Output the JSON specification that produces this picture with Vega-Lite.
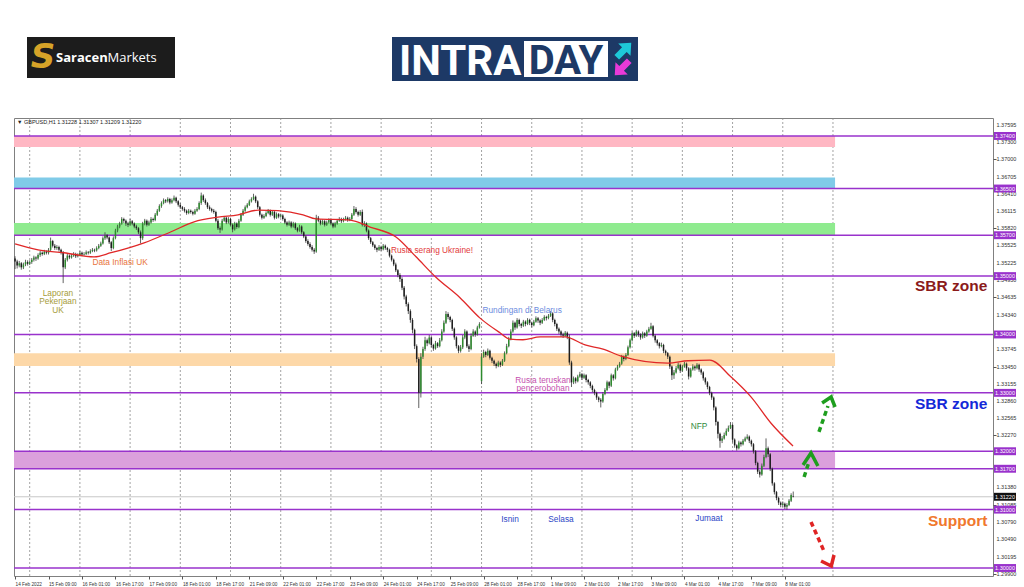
{
"$schema": "https://vega.github.io/schema/vega-lite/v6.json",
"background": "#ffffff",
"padding": {"left": 11, "top": 0, "right": 0, "bottom": 0},
"spacing": 18,
"bounds": "flush",
"config": {"view": {"stroke": null}, "font": "Liberation Sans"},
"vconcat": [
{
"width": 979, "height": 100,
"data": {"values": [{}]},
"layer": [
{"mark": {"type": "rect", "color": "#1c1c1c"}, "encoding": {"x": {"datum": 24, "type": "quantitative", "scale": {"domain": [11, 990], "nice": false, "zero": false}, "axis": null}, "x2": {"datum": 172}, "y": {"datum": 37, "type": "quantitative", "scale": {"domain": [0, 100], "reverse": true, "nice": false, "zero": false}, "axis": null}, "y2": {"datum": 78}}},
{"mark": {"type": "text", "text": "S", "font": "DejaVu Sans", "fontWeight": "bold", "fontStyle": "italic", "fontSize": 34, "color": "#d6a328", "baseline": "middle", "align": "center"}, "encoding": {"x": {"datum": 40, "type": "quantitative"}, "y": {"datum": 58, "type": "quantitative"}}},
{"mark": {"type": "text", "text": "Saracen", "font": "Open Sans", "fontWeight": "bold", "fontSize": 13, "color": "#ffffff", "baseline": "middle", "align": "left"}, "encoding": {"x": {"datum": 53, "type": "quantitative"}, "y": {"datum": 57.5, "type": "quantitative"}}},
{"mark": {"type": "text", "text": "Markets", "font": "Open Sans", "fontSize": 13, "color": "#ffffff", "baseline": "middle", "align": "left"}, "encoding": {"x": {"datum": 104.5, "type": "quantitative"}, "y": {"datum": 57.5, "type": "quantitative"}}},
{"mark": {"type": "rect", "color": "#1d3966"}, "encoding": {"x": {"datum": 389, "type": "quantitative"}, "x2": {"datum": 635}, "y": {"datum": 37, "type": "quantitative"}, "y2": {"datum": 81}}},
{"mark": {"type": "text", "text": "INTRA", "font": "Roboto", "fontWeight": "bold", "fontSize": 42, "color": "#ffffff", "baseline": "alphabetic", "align": "left"}, "encoding": {"x": {"datum": 396, "type": "quantitative"}, "y": {"datum": 75, "type": "quantitative"}}},
{"mark": {"type": "rect", "color": "#ffffff"}, "encoding": {"x": {"datum": 521, "type": "quantitative"}, "x2": {"datum": 605}, "y": {"datum": 41, "type": "quantitative"}, "y2": {"datum": 77}}},
{"mark": {"type": "text", "text": "DAY", "font": "Roboto", "fontWeight": "bold", "fontSize": 40, "color": "#1d3966", "baseline": "alphabetic", "align": "center"}, "encoding": {"x": {"datum": 563, "type": "quantitative"}, "y": {"datum": 74, "type": "quantitative"}}},
{"mark": {"type": "point", "shape": "M0,-1L0.85,-0.05L0.32,-0.05L0.32,1L-0.32,1L-0.32,-0.05L-0.85,-0.05Z", "filled": true, "opacity": 1, "color": "#1ec8d8", "size": 420, "angle": 45}, "encoding": {"x": {"datum": 621, "type": "quantitative"}, "y": {"datum": 50, "type": "quantitative"}}},
{"mark": {"type": "point", "shape": "M0,-1L0.85,-0.05L0.32,-0.05L0.32,1L-0.32,1L-0.32,-0.05L-0.85,-0.05Z", "filled": true, "opacity": 1, "color": "#e83ad9", "size": 420, "angle": 225}, "encoding": {"x": {"datum": 619, "type": "quantitative"}, "y": {"datum": 68, "type": "quantitative"}}}
]
},
{
"width": 979, "height": 458,
"view": {"stroke": "#808080", "strokeWidth": 1},
"data": {"values": "i,o,h,l,c\n0,1.3530,1.3534,1.3512,1.3525\n1,1.3525,1.3528,1.3513,1.3518\n2,1.3518,1.3526,1.3515,1.3522\n3,1.3522,1.3524,1.3511,1.3515\n4,1.3515,1.3523,1.3512,1.3520\n5,1.3520,1.3528,1.3517,1.3524\n6,1.3524,1.3527,1.3518,1.3521\n7,1.3521,1.3527,1.3519,1.3524\n8,1.3524,1.3531,1.3521,1.3528\n9,1.3528,1.3535,1.3525,1.3532\n10,1.3532,1.3534,1.3526,1.3530\n11,1.3530,1.3539,1.3528,1.3536\n12,1.3536,1.3543,1.3533,1.3540\n13,1.3540,1.3542,1.3535,1.3538\n14,1.3538,1.3545,1.3536,1.3542\n15,1.3542,1.3544,1.3537,1.3540\n16,1.3540,1.3548,1.3537,1.3545\n17,1.3545,1.3566,1.3543,1.3560\n18,1.3560,1.3562,1.3549,1.3552\n19,1.3552,1.3555,1.3545,1.3548\n20,1.3548,1.3553,1.3545,1.3550\n21,1.3550,1.3552,1.3542,1.3545\n22,1.3545,1.3547,1.3537,1.3540\n23,1.3540,1.3543,1.3488,1.3515\n24,1.3515,1.3531,1.3512,1.3528\n25,1.3528,1.3538,1.3525,1.3535\n26,1.3535,1.3537,1.3529,1.3532\n27,1.3532,1.3538,1.3530,1.3535\n28,1.3535,1.3541,1.3533,1.3538\n29,1.3538,1.3540,1.3531,1.3534\n30,1.3534,1.3539,1.3532,1.3536\n31,1.3536,1.3543,1.3534,1.3540\n32,1.3540,1.3542,1.3534,1.3537\n33,1.3537,1.3541,1.3535,1.3538\n34,1.3538,1.3544,1.3536,1.3541\n35,1.3541,1.3543,1.3537,1.3540\n36,1.3540,1.3546,1.3538,1.3543\n37,1.3543,1.3548,1.3541,1.3545\n38,1.3545,1.3547,1.3541,1.3544\n39,1.3544,1.3551,1.3542,1.3548\n40,1.3548,1.3555,1.3546,1.3552\n41,1.3552,1.3559,1.3550,1.3556\n42,1.3556,1.3568,1.3554,1.3565\n43,1.3565,1.3575,1.3562,1.3570\n44,1.3570,1.3572,1.3563,1.3566\n45,1.3566,1.3568,1.3555,1.3558\n46,1.3558,1.3560,1.3543,1.3548\n47,1.3548,1.3568,1.3546,1.3565\n48,1.3565,1.3581,1.3563,1.3578\n49,1.3578,1.3588,1.3575,1.3585\n50,1.3585,1.3593,1.3582,1.3590\n51,1.3590,1.3601,1.3588,1.3598\n52,1.3598,1.3600,1.3591,1.3595\n53,1.3595,1.3597,1.3586,1.3590\n54,1.3590,1.3593,1.3584,1.3588\n55,1.3588,1.3598,1.3586,1.3594\n56,1.3594,1.3596,1.3587,1.3590\n57,1.3590,1.3592,1.3582,1.3585\n58,1.3585,1.3588,1.3579,1.3582\n59,1.3582,1.3584,1.3572,1.3575\n60,1.3575,1.3578,1.3556,1.3565\n61,1.3565,1.3593,1.3562,1.3590\n62,1.3590,1.3598,1.3587,1.3595\n63,1.3595,1.3597,1.3585,1.3588\n64,1.3588,1.3595,1.3586,1.3592\n65,1.3592,1.3601,1.3590,1.3598\n66,1.3598,1.3600,1.3593,1.3596\n67,1.3596,1.3608,1.3594,1.3605\n68,1.3605,1.3615,1.3603,1.3612\n69,1.3612,1.3623,1.3610,1.3620\n70,1.3620,1.3628,1.3617,1.3625\n71,1.3625,1.3633,1.3623,1.3630\n72,1.3630,1.3632,1.3625,1.3628\n73,1.3628,1.3635,1.3626,1.3632\n74,1.3632,1.3634,1.3623,1.3626\n75,1.3626,1.3633,1.3624,1.3630\n76,1.3630,1.3638,1.3628,1.3634\n77,1.3634,1.3636,1.3625,1.3628\n78,1.3628,1.3630,1.3619,1.3622\n79,1.3622,1.3625,1.3615,1.3618\n80,1.3618,1.3620,1.3612,1.3615\n81,1.3615,1.3618,1.3609,1.3612\n82,1.3612,1.3614,1.3605,1.3608\n83,1.3608,1.3615,1.3606,1.3612\n84,1.3612,1.3614,1.3607,1.3610\n85,1.3610,1.3612,1.3604,1.3607\n86,1.3607,1.3615,1.3605,1.3612\n87,1.3612,1.3618,1.3610,1.3615\n88,1.3615,1.3628,1.3613,1.3625\n89,1.3625,1.3643,1.3622,1.3638\n90,1.3638,1.3640,1.3627,1.3630\n91,1.3630,1.3633,1.3622,1.3625\n92,1.3625,1.3627,1.3615,1.3618\n93,1.3618,1.3621,1.3612,1.3615\n94,1.3615,1.3617,1.3609,1.3612\n95,1.3612,1.3615,1.3607,1.3610\n96,1.3610,1.3612,1.3592,1.3595\n97,1.3595,1.3598,1.3579,1.3582\n98,1.3582,1.3585,1.3574,1.3580\n99,1.3580,1.3598,1.3578,1.3595\n100,1.3595,1.3603,1.3593,1.3600\n101,1.3600,1.3602,1.3589,1.3592\n102,1.3592,1.3601,1.3590,1.3598\n103,1.3598,1.3600,1.3585,1.3588\n104,1.3588,1.3590,1.3575,1.3580\n105,1.3580,1.3593,1.3578,1.3590\n106,1.3590,1.3592,1.3581,1.3584\n107,1.3584,1.3598,1.3582,1.3595\n108,1.3595,1.3608,1.3593,1.3605\n109,1.3605,1.3615,1.3603,1.3612\n110,1.3612,1.3621,1.3610,1.3618\n111,1.3618,1.3625,1.3616,1.3622\n112,1.3622,1.3631,1.3620,1.3628\n113,1.3628,1.3635,1.3626,1.3632\n114,1.3632,1.3641,1.3630,1.3636\n115,1.3636,1.3638,1.3625,1.3628\n116,1.3628,1.3630,1.3615,1.3618\n117,1.3618,1.3620,1.3602,1.3605\n118,1.3605,1.3607,1.3597,1.3600\n119,1.3600,1.3606,1.3598,1.3603\n120,1.3603,1.3611,1.3601,1.3608\n121,1.3608,1.3615,1.3606,1.3612\n122,1.3612,1.3614,1.3602,1.3605\n123,1.3605,1.3613,1.3603,1.3610\n124,1.3610,1.3612,1.3597,1.3600\n125,1.3600,1.3609,1.3598,1.3606\n126,1.3606,1.3608,1.3599,1.3602\n127,1.3602,1.3607,1.3600,1.3604\n128,1.3604,1.3606,1.3595,1.3598\n129,1.3598,1.3600,1.3589,1.3592\n130,1.3592,1.3594,1.3585,1.3588\n131,1.3588,1.3595,1.3586,1.3592\n132,1.3592,1.3594,1.3582,1.3585\n133,1.3585,1.3593,1.3583,1.3590\n134,1.3590,1.3592,1.3579,1.3582\n135,1.3582,1.3584,1.3575,1.3578\n136,1.3578,1.3588,1.3576,1.3585\n137,1.3585,1.3587,1.3572,1.3575\n138,1.3575,1.3577,1.3565,1.3568\n139,1.3568,1.3570,1.3557,1.3560\n140,1.3560,1.3563,1.3552,1.3555\n141,1.3555,1.3558,1.3547,1.3550\n142,1.3550,1.3553,1.3542,1.3545\n143,1.3545,1.3548,1.3538,1.3542\n144,1.3542,1.3605,1.3540,1.3600\n145,1.3600,1.3603,1.3592,1.3595\n146,1.3595,1.3597,1.3587,1.3590\n147,1.3590,1.3597,1.3588,1.3594\n148,1.3594,1.3596,1.3585,1.3588\n149,1.3588,1.3595,1.3586,1.3592\n150,1.3592,1.3599,1.3590,1.3596\n151,1.3596,1.3598,1.3587,1.3590\n152,1.3590,1.3592,1.3582,1.3585\n153,1.3585,1.3593,1.3583,1.3590\n154,1.3590,1.3598,1.3588,1.3595\n155,1.3595,1.3601,1.3593,1.3598\n156,1.3598,1.3600,1.3591,1.3594\n157,1.3594,1.3600,1.3592,1.3597\n158,1.3597,1.3603,1.3595,1.3600\n159,1.3600,1.3602,1.3593,1.3596\n160,1.3596,1.3601,1.3594,1.3598\n161,1.3598,1.3608,1.3596,1.3605\n162,1.3605,1.3620,1.3603,1.3615\n163,1.3615,1.3618,1.3607,1.3610\n164,1.3610,1.3612,1.3602,1.3605\n165,1.3605,1.3613,1.3603,1.3610\n166,1.3610,1.3614,1.3585,1.3588\n167,1.3588,1.3594,1.3584,1.3590\n168,1.3590,1.3592,1.3575,1.3578\n169,1.3578,1.3580,1.3562,1.3565\n170,1.3565,1.3567,1.3555,1.3558\n171,1.3558,1.3560,1.3550,1.3553\n172,1.3553,1.3555,1.3545,1.3548\n173,1.3548,1.3550,1.3541,1.3545\n174,1.3545,1.3553,1.3543,1.3550\n175,1.3550,1.3552,1.3543,1.3546\n176,1.3546,1.3555,1.3544,1.3552\n177,1.3552,1.3554,1.3545,1.3548\n178,1.3548,1.3550,1.3541,1.3545\n179,1.3545,1.3547,1.3532,1.3535\n180,1.3535,1.3537,1.3525,1.3528\n181,1.3528,1.3530,1.3517,1.3520\n182,1.3520,1.3523,1.3507,1.3510\n183,1.3510,1.3512,1.3498,1.3502\n184,1.3502,1.3505,1.3490,1.3495\n185,1.3495,1.3498,1.3476,1.3480\n186,1.3480,1.3483,1.3460,1.3465\n187,1.3465,1.3468,1.3448,1.3452\n188,1.3452,1.3455,1.3435,1.3440\n189,1.3440,1.3443,1.3420,1.3425\n190,1.3425,1.3428,1.3402,1.3408\n191,1.3408,1.3410,1.3375,1.3380\n192,1.3380,1.3383,1.3352,1.3358\n193,1.3358,1.3361,1.3274,1.3300\n194,1.3300,1.3368,1.3292,1.3362\n195,1.3362,1.3379,1.3358,1.3375\n196,1.3375,1.3396,1.3372,1.3390\n197,1.3390,1.3393,1.3380,1.3385\n198,1.3385,1.3399,1.3383,1.3395\n199,1.3395,1.3397,1.3378,1.3382\n200,1.3382,1.3384,1.3372,1.3376\n201,1.3376,1.3389,1.3374,1.3385\n202,1.3385,1.3387,1.3377,1.3380\n203,1.3380,1.3394,1.3378,1.3390\n204,1.3390,1.3409,1.3388,1.3405\n205,1.3405,1.3424,1.3403,1.3420\n206,1.3420,1.3440,1.3418,1.3435\n207,1.3435,1.3438,1.3426,1.3430\n208,1.3430,1.3432,1.3421,1.3425\n209,1.3425,1.3427,1.3406,1.3410\n210,1.3410,1.3412,1.3391,1.3395\n211,1.3395,1.3397,1.3376,1.3380\n212,1.3380,1.3382,1.3368,1.3372\n213,1.3372,1.3382,1.3369,1.3378\n214,1.3378,1.3399,1.3375,1.3395\n215,1.3395,1.3409,1.3392,1.3405\n216,1.3405,1.3407,1.3377,1.3380\n217,1.3380,1.3383,1.3370,1.3375\n218,1.3375,1.3402,1.3373,1.3398\n219,1.3398,1.3409,1.3396,1.3405\n220,1.3405,1.3407,1.3396,1.3400\n221,1.3400,1.3415,1.3398,1.3412\n222,1.3412,1.3421,1.3410,1.3418\n223,1.3320,1.3368,1.3315,1.3362\n224,1.3362,1.3374,1.3360,1.3370\n225,1.3370,1.3372,1.3361,1.3365\n226,1.3365,1.3376,1.3363,1.3372\n227,1.3372,1.3374,1.3357,1.3360\n228,1.3360,1.3362,1.3351,1.3355\n229,1.3355,1.3357,1.3346,1.3350\n230,1.3350,1.3352,1.3342,1.3346\n231,1.3346,1.3355,1.3344,1.3352\n232,1.3352,1.3354,1.3344,1.3348\n233,1.3348,1.3358,1.3346,1.3355\n234,1.3355,1.3371,1.3353,1.3368\n235,1.3368,1.3384,1.3366,1.3380\n236,1.3380,1.3396,1.3378,1.3392\n237,1.3392,1.3409,1.3390,1.3405\n238,1.3405,1.3424,1.3403,1.3420\n239,1.3420,1.3422,1.3408,1.3412\n240,1.3412,1.3428,1.3410,1.3425\n241,1.3425,1.3427,1.3414,1.3418\n242,1.3418,1.3420,1.3411,1.3415\n243,1.3415,1.3425,1.3413,1.3422\n244,1.3422,1.3424,1.3414,1.3418\n245,1.3418,1.3428,1.3416,1.3425\n246,1.3425,1.3427,1.3416,1.3420\n247,1.3420,1.3422,1.3412,1.3416\n248,1.3416,1.3425,1.3414,1.3422\n249,1.3422,1.3431,1.3420,1.3428\n250,1.3428,1.3430,1.3420,1.3424\n251,1.3424,1.3426,1.3416,1.3420\n252,1.3420,1.3428,1.3418,1.3425\n253,1.3425,1.3433,1.3423,1.3430\n254,1.3430,1.3432,1.3424,1.3428\n255,1.3428,1.3435,1.3426,1.3432\n256,1.3432,1.3440,1.3430,1.3436\n257,1.3436,1.3438,1.3421,1.3425\n258,1.3425,1.3427,1.3414,1.3418\n259,1.3418,1.3420,1.3406,1.3410\n260,1.3410,1.3412,1.3401,1.3405\n261,1.3405,1.3407,1.3396,1.3400\n262,1.3400,1.3403,1.3394,1.3398\n263,1.3398,1.3406,1.3396,1.3403\n264,1.3403,1.3405,1.3392,1.3396\n265,1.3396,1.3400,1.3348,1.3352\n266,1.3352,1.3355,1.3310,1.3318\n267,1.3318,1.3328,1.3315,1.3325\n268,1.3325,1.3327,1.3316,1.3320\n269,1.3320,1.3331,1.3318,1.3328\n270,1.3328,1.3336,1.3326,1.3332\n271,1.3332,1.3334,1.3322,1.3326\n272,1.3326,1.3333,1.3324,1.3330\n273,1.3330,1.3332,1.3318,1.3322\n274,1.3322,1.3324,1.3314,1.3318\n275,1.3318,1.3320,1.3308,1.3312\n276,1.3312,1.3314,1.3301,1.3305\n277,1.3305,1.3307,1.3296,1.3300\n278,1.3300,1.3302,1.3288,1.3292\n279,1.3292,1.3294,1.3284,1.3288\n280,1.3288,1.3291,1.3275,1.3285\n281,1.3285,1.3301,1.3283,1.3298\n282,1.3298,1.3308,1.3296,1.3305\n283,1.3305,1.3321,1.3303,1.3318\n284,1.3318,1.3320,1.3308,1.3312\n285,1.3312,1.3333,1.3310,1.3330\n286,1.3330,1.3332,1.3321,1.3325\n287,1.3325,1.3343,1.3323,1.3340\n288,1.3340,1.3348,1.3338,1.3345\n289,1.3345,1.3353,1.3343,1.3350\n290,1.3350,1.3365,1.3348,1.3362\n291,1.3362,1.3364,1.3354,1.3358\n292,1.3358,1.3368,1.3356,1.3365\n293,1.3365,1.3381,1.3363,1.3378\n294,1.3378,1.3393,1.3376,1.3390\n295,1.3390,1.3405,1.3388,1.3402\n296,1.3402,1.3404,1.3394,1.3398\n297,1.3398,1.3408,1.3396,1.3405\n298,1.3405,1.3407,1.3396,1.3400\n299,1.3400,1.3402,1.3391,1.3395\n300,1.3395,1.3405,1.3393,1.3402\n301,1.3402,1.3404,1.3394,1.3398\n302,1.3398,1.3408,1.3396,1.3405\n303,1.3405,1.3413,1.3403,1.3410\n304,1.3410,1.3420,1.3408,1.3414\n305,1.3414,1.3416,1.3395,1.3398\n306,1.3398,1.3400,1.3386,1.3390\n307,1.3390,1.3392,1.3381,1.3385\n308,1.3385,1.3387,1.3376,1.3380\n309,1.3380,1.3386,1.3378,1.3382\n310,1.3382,1.3384,1.3368,1.3372\n311,1.3372,1.3374,1.3364,1.3368\n312,1.3368,1.3370,1.3358,1.3362\n313,1.3362,1.3364,1.3341,1.3345\n314,1.3345,1.3347,1.3322,1.3330\n315,1.3330,1.3339,1.3324,1.3335\n316,1.3335,1.3346,1.3333,1.3342\n317,1.3342,1.3352,1.3340,1.3348\n318,1.3348,1.3350,1.3334,1.3338\n319,1.3338,1.3348,1.3336,1.3345\n320,1.3345,1.3353,1.3343,1.3350\n321,1.3350,1.3352,1.3338,1.3342\n322,1.3342,1.3344,1.3323,1.3328\n323,1.3328,1.3343,1.3326,1.3340\n324,1.3340,1.3349,1.3338,1.3345\n325,1.3345,1.3347,1.3338,1.3342\n326,1.3342,1.3351,1.3340,1.3348\n327,1.3348,1.3350,1.3336,1.3340\n328,1.3340,1.3342,1.3331,1.3335\n329,1.3335,1.3337,1.3321,1.3325\n330,1.3325,1.3327,1.3314,1.3318\n331,1.3318,1.3320,1.3306,1.3310\n332,1.3310,1.3312,1.3296,1.3300\n333,1.3300,1.3302,1.3288,1.3292\n334,1.3292,1.3294,1.3270,1.3275\n335,1.3275,1.3277,1.3244,1.3250\n336,1.3250,1.3252,1.3222,1.3230\n337,1.3230,1.3232,1.3206,1.3218\n338,1.3218,1.3226,1.3214,1.3222\n339,1.3222,1.3232,1.3220,1.3228\n340,1.3228,1.3239,1.3226,1.3235\n341,1.3235,1.3244,1.3233,1.3240\n342,1.3240,1.3250,1.3238,1.3245\n343,1.3245,1.3247,1.3215,1.3220\n344,1.3220,1.3222,1.3206,1.3210\n345,1.3210,1.3212,1.3201,1.3205\n346,1.3205,1.3218,1.3203,1.3215\n347,1.3215,1.3217,1.3208,1.3212\n348,1.3212,1.3221,1.3210,1.3218\n349,1.3218,1.3225,1.3216,1.3222\n350,1.3222,1.3229,1.3220,1.3225\n351,1.3225,1.3227,1.3214,1.3218\n352,1.3218,1.3220,1.3208,1.3212\n353,1.3212,1.3214,1.3196,1.3200\n354,1.3200,1.3202,1.3176,1.3180\n355,1.3180,1.3182,1.3161,1.3165\n356,1.3165,1.3168,1.3155,1.3160\n357,1.3160,1.3179,1.3158,1.3175\n358,1.3175,1.3194,1.3173,1.3190\n359,1.3190,1.3222,1.3188,1.3205\n360,1.3205,1.3208,1.3190,1.3195\n361,1.3195,1.3197,1.3166,1.3170\n362,1.3170,1.3172,1.3141,1.3145\n363,1.3145,1.3147,1.3126,1.3130\n364,1.3130,1.3132,1.3116,1.3120\n365,1.3120,1.3122,1.3108,1.3112\n366,1.3112,1.3114,1.3104,1.3108\n367,1.3108,1.3114,1.3105,1.3110\n368,1.3110,1.3112,1.3101,1.3105\n369,1.3105,1.3111,1.3100,1.3108\n370,1.3108,1.3118,1.3106,1.3115\n371,1.3115,1.3128,1.3113,1.3125\n372,1.3123,1.3131,1.3121,1.3122", "format": {"type": "csv", "parse": {"i": "number", "o": "number", "h": "number", "l": "number", "c": "number"}}},
"resolve": {"scale": {"color": "independent"}},
"layer": [
{"data": {"values": [{"g":7},{"g":31},{"g":55},{"g":79},{"g":103},{"g":127},{"g":151},{"g":175},{"g":199},{"g":223},{"g":247},{"g":271},{"g":295},{"g":319},{"g":343},{"g":367},{"g":391}]},
 "mark": {"type": "rule", "color": "#8c8c8c", "strokeDash": [2, 2], "strokeWidth": 0.8},
 "encoding": {"x": {"field": "g", "type": "quantitative", "title": null, "scale": {"domain": [-0.5, 467.5], "nice": false, "zero": false},
  "axis": {"title": null, "values": [0,16,32,48,64,80,96,112,128,144,160,176,192,208,224,240,256,272,288,304,320,336,352,368], "labelExpr": "['14 Feb 2022','15 Feb 09:00','16 Feb 01:00','16 Feb 17:00','17 Feb 09:00','18 Feb 01:00','18 Feb 17:00','21 Feb 09:00','22 Feb 01:00','22 Feb 17:00','23 Feb 09:00','24 Feb 01:00','24 Feb 17:00','25 Feb 09:00','28 Feb 01:00','28 Feb 17:00','1 Mar 09:00','2 Mar 01:00','2 Mar 17:00','3 Mar 09:00','4 Mar 01:00','4 Mar 17:00','7 Mar 09:00','8 Mar 01:00'][round(datum.value/16)]", "labelAlign": "left", "labelFontSize": 4.7, "labelColor": "#333333", "labelPadding": 2, "tickSize": 3, "tickColor": "#555555", "domain": false, "grid": false, "labelOverlap": false, "labelFlush": false}}}},
{"data": {"values": [{"zone":"z1","hi":1.3740,"lo":1.3721},{"zone":"z2","hi":1.3669,"lo":1.3650},{"zone":"z3","hi":1.3591,"lo":1.3570},{"zone":"z4","hi":1.3368,"lo":1.3346},{"zone":"z5","hi":1.3200,"lo":1.3170}]},
 "mark": {"type": "rect", "opacity": 1},
 "encoding": {"x": {"datum": -0.5, "type": "quantitative"}, "x2": {"datum": 392},
  "y": {"field": "hi", "type": "quantitative", "title": null, "scale": {"domain": [1.29863, 1.37708], "nice": false, "zero": false},
   "axis": {"title": null, "orient": "right", "values": [1.37595,1.373,1.37,1.36705,1.3641,1.36115,1.3582,1.35525,1.35225,1.3493,1.34635,1.3434,1.34045,1.33745,1.3345,1.33155,1.3286,1.32565,1.3227,1.31975,1.3168,1.3138,1.31085,1.3079,1.3049,1.30195,1.299], "labels": false, "tickSize": 3, "tickColor": "#555555", "domain": false, "grid": false}},
  "y2": {"field": "lo"},
  "color": {"field": "zone", "type": "nominal", "scale": {"domain": ["z1","z2","z3","z4","z5"], "range": ["#ffb7c3","#80cbe8","#8feb8f","#fdd8a8","#dba0dc"]}, "legend": null}}},
{"data": {"values": [{"lvl":1.374},{"lvl":1.365},{"lvl":1.357},{"lvl":1.35},{"lvl":1.34},{"lvl":1.33},{"lvl":1.32},{"lvl":1.317},{"lvl":1.31},{"lvl":1.30}]},
 "mark": {"type": "rule", "color": "#9932cc", "strokeWidth": 1.5},
 "encoding": {"y": {"field": "lvl", "type": "quantitative", "title": null}}},
{"data": {"values": [{"p": 1.3122}]},
 "mark": {"type": "rule", "color": "#c8c8c8", "strokeWidth": 1},
 "encoding": {"y": {"field": "p", "type": "quantitative", "title": null}}},
{"mark": {"type": "rule", "color": "#3a3a3a", "strokeWidth": 0.8},
 "encoding": {"x": {"field": "i", "type": "quantitative", "title": null}, "y": {"field": "l", "type": "quantitative", "title": null}, "y2": {"field": "h"}}},
{"mark": {"type": "rule", "strokeWidth": 1.5},
 "encoding": {"x": {"field": "i", "type": "quantitative", "title": null}, "y": {"field": "o", "type": "quantitative", "title": null}, "y2": {"field": "c"},
  "color": {"condition": {"test": "datum.c >= datum.o", "value": "#2e8b2e"}, "value": "#1e1e1e"}}},
{"data": {"values": [{"i":0,"ma":1.3555},{"i":11,"ma":1.3545},{"i":23.4,"ma":1.3540},{"i":37.8,"ma":1.3533},{"i":45.9,"ma":1.3540},{"i":61.7,"ma":1.3557},{"i":74.6,"ma":1.3576},{"i":85.6,"ma":1.3593},{"i":97,"ma":1.3601},{"i":106.6,"ma":1.3605},{"i":116.2,"ma":1.3613},{"i":125.7,"ma":1.3612},{"i":137.7,"ma":1.3605},{"i":143.9,"ma":1.3598},{"i":160.1,"ma":1.3596},{"i":169.7,"ma":1.3584},{"i":182.1,"ma":1.3567},{"i":191.7,"ma":1.3533},{"i":201.2,"ma":1.3498},{"i":212.7,"ma":1.3463},{"i":222.3,"ma":1.3428},{"i":231.8,"ma":1.3403},{"i":236.6,"ma":1.3392},{"i":242.8,"ma":1.3391},{"i":251,"ma":1.3396},{"i":262.9,"ma":1.3396},{"i":272.5,"ma":1.3382},{"i":281.1,"ma":1.3375},{"i":289.7,"ma":1.3363},{"i":312.1,"ma":1.3351},{"i":321.7,"ma":1.3355},{"i":332.2,"ma":1.3356},{"i":342.3,"ma":1.3327},{"i":351.8,"ma":1.3293},{"i":361.4,"ma":1.3248},{"i":371.9,"ma":1.3209}]},
 "mark": {"type": "line", "color": "#e02828", "strokeWidth": 1.3, "interpolate": "monotone"},
 "encoding": {"x": {"field": "i", "type": "quantitative", "title": null}, "y": {"field": "ma", "type": "quantitative", "title": null}}},
{"data": {"values": [{"label":"Data Inflasi UK","i":50.2,"p":1.35225},{"label":"Laporan\nPekerjaan\nUK","i":20.5,"p":1.34694},{"label":"Rusia serang Ukraine!","i":199.3,"p":1.3543},{"label":"Rundingan di Belarus","i":242.4,"p":1.344},{"label":"Rusia teruskan\npencerobohan","i":252.4,"p":1.33204},{"label":"NFP","i":327,"p":1.32415},{"label":"Isnin","i":236.6,"p":1.30822},{"label":"Selasa","i":261,"p":1.30822},{"label":"Jumaat","i":331.7,"p":1.30839}]},
 "mark": {"type": "text", "font": "Liberation Sans", "fontSize": 8.3, "lineBreak": "\n", "lineHeight": 8.3, "align": "center", "baseline": "middle"},
 "encoding": {"x": {"field": "i", "type": "quantitative", "title": null}, "y": {"field": "p", "type": "quantitative", "title": null}, "text": {"field": "label"},
  "color": {"field": "label", "type": "nominal", "scale": {"domain": ["Data Inflasi UK","Laporan\nPekerjaan\nUK","Rusia serang Ukraine!","Rundingan di Belarus","Rusia teruskan\npencerobohan","NFP","Isnin","Selasa","Jumaat"], "range": ["#e8743b","#a69c3a","#e23b3b","#6d8de0","#c54fae","#2f8a3c","#2d46c6","#2d46c6","#2d46c6"]}, "legend": null}}},
{"data": {"values": [{"label":"SBR zone","tag":"upper","p":1.34831},{"label":"SBR zone","tag":"lower","p":1.32809},{"label":"Support","tag":"support","p":1.30805}]},
 "mark": {"type": "text", "font": "Liberation Sans", "fontWeight": "bold", "fontSize": 15.5, "align": "right", "baseline": "middle"},
 "encoding": {"x": {"datum": 464.8, "type": "quantitative"}, "y": {"field": "p", "type": "quantitative", "title": null}, "text": {"field": "label"},
  "color": {"field": "tag", "type": "nominal", "scale": {"domain": ["upper","lower","support"], "range": ["#8b1a1a","#1428d8","#f0782d"]}, "legend": null}}},
{"data": {"values": [{"a":"up1","s":0,"i":384.3,"p":1.32333},{"a":"up1","s":1,"i":388.6,"p":1.32775},{"a":"up2","s":0,"i":377.2,"p":1.31559},{"a":"up2","s":1,"i":379.5,"p":1.31816},{"a":"down","s":0,"i":380.5,"p":1.30788},{"a":"down","s":1,"i":387.1,"p":1.30257}]},
 "mark": {"type": "line", "strokeWidth": 3.5, "strokeDash": [5, 3.5]},
 "encoding": {"x": {"field": "i", "type": "quantitative", "title": null}, "y": {"field": "p", "type": "quantitative", "title": null}, "detail": {"field": "a"}, "order": {"field": "s"},
  "color": {"field": "a", "type": "nominal", "scale": {"domain": ["up1","up2","down"], "range": ["#1e9e1e","#1e9e1e","#e02424"]}, "legend": null}}},
{"data": {"values": [{"a":"up1","s":0,"i":385.8,"p":1.32827},{"a":"up1","s":1,"i":390.1,"p":1.32929},{"a":"up1","s":2,"i":392,"p":1.32758},{"a":"up2","s":0,"i":376.7,"p":1.31765},{"a":"up2","s":1,"i":380.5,"p":1.3197},{"a":"up2","s":2,"i":383.8,"p":1.31747},{"a":"down","s":0,"i":385.3,"p":1.3012},{"a":"down","s":1,"i":390.2,"p":1.30034},{"a":"down","s":2,"i":391.5,"p":1.30223}]},
 "mark": {"type": "line", "strokeWidth": 3.5},
 "encoding": {"x": {"field": "i", "type": "quantitative", "title": null}, "y": {"field": "p", "type": "quantitative", "title": null}, "detail": {"field": "a"}, "order": {"field": "s"},
  "color": {"field": "a", "type": "nominal", "scale": {"domain": ["up1","up2","down"], "range": ["#1e9e1e","#1e9e1e","#e02424"]}, "legend": null}}},
{"data": {"values": [{"t": "▼ GBPUSD,H1  1.31228 1.31307 1.31209 1.31220"}]},
 "mark": {"type": "text", "font": "Liberation Sans", "fontSize": 5.5, "color": "#222222", "align": "left", "baseline": "middle", "dx": 3, "dy": 4},
 "encoding": {"x": {"datum": -0.5, "type": "quantitative"}, "y": {"datum": 1.37708, "type": "quantitative"}, "text": {"field": "t"}}},
{"data": {"values": [{"tick":1.37595},{"tick":1.373},{"tick":1.37},{"tick":1.36705},{"tick":1.3641},{"tick":1.36115},{"tick":1.3582},{"tick":1.35525},{"tick":1.35225},{"tick":1.3493},{"tick":1.34635},{"tick":1.3434},{"tick":1.33745},{"tick":1.3345},{"tick":1.33155},{"tick":1.3286},{"tick":1.32565},{"tick":1.3227},{"tick":1.3138},{"tick":1.31085},{"tick":1.3079},{"tick":1.3049},{"tick":1.30195},{"tick":1.299}]},
 "mark": {"type": "text", "font": "Liberation Sans", "fontSize": 5.5, "color": "#333333", "align": "left", "baseline": "middle", "dx": 3.5},
 "encoding": {"x": {"datum": 467.5, "type": "quantitative"}, "y": {"field": "tick", "type": "quantitative", "title": null}, "text": {"field": "tick", "type": "quantitative", "format": ".5f"}}},
{"data": {"values": [{"lvl":1.374},{"lvl":1.365},{"lvl":1.357},{"lvl":1.35},{"lvl":1.34},{"lvl":1.33},{"lvl":1.32},{"lvl":1.317},{"lvl":1.31},{"lvl":1.30}]},
 "layer": [
  {"mark": {"type": "point", "shape": "M-1,-0.36H1V0.36H-1Z", "filled": true, "opacity": 1, "size": 484, "color": "#9932cc", "xOffset": 12},
   "encoding": {"x": {"datum": 467.5, "type": "quantitative"}, "y": {"field": "lvl", "type": "quantitative", "title": null}}},
  {"mark": {"type": "text", "font": "Liberation Sans", "fontSize": 5.5, "color": "#ffffff", "align": "center", "baseline": "middle", "dx": 12},
   "encoding": {"x": {"datum": 467.5, "type": "quantitative"}, "y": {"field": "lvl", "type": "quantitative", "title": null}, "text": {"field": "lvl", "type": "quantitative", "format": ".5f"}}}
 ]},
{"data": {"values": [{"p": 1.3122}]},
 "layer": [
  {"mark": {"type": "point", "shape": "M-1,-0.36H1V0.36H-1Z", "filled": true, "opacity": 1, "size": 484, "color": "#111111", "xOffset": 12},
   "encoding": {"x": {"datum": 467.5, "type": "quantitative"}, "y": {"field": "p", "type": "quantitative", "title": null}}},
  {"mark": {"type": "text", "font": "Liberation Sans", "fontSize": 5.5, "color": "#ffffff", "align": "center", "baseline": "middle", "dx": 12},
   "encoding": {"x": {"datum": 467.5, "type": "quantitative"}, "y": {"field": "p", "type": "quantitative", "title": null}, "text": {"field": "p", "type": "quantitative", "format": ".5f"}}}
 ]}
]
}
]
}
